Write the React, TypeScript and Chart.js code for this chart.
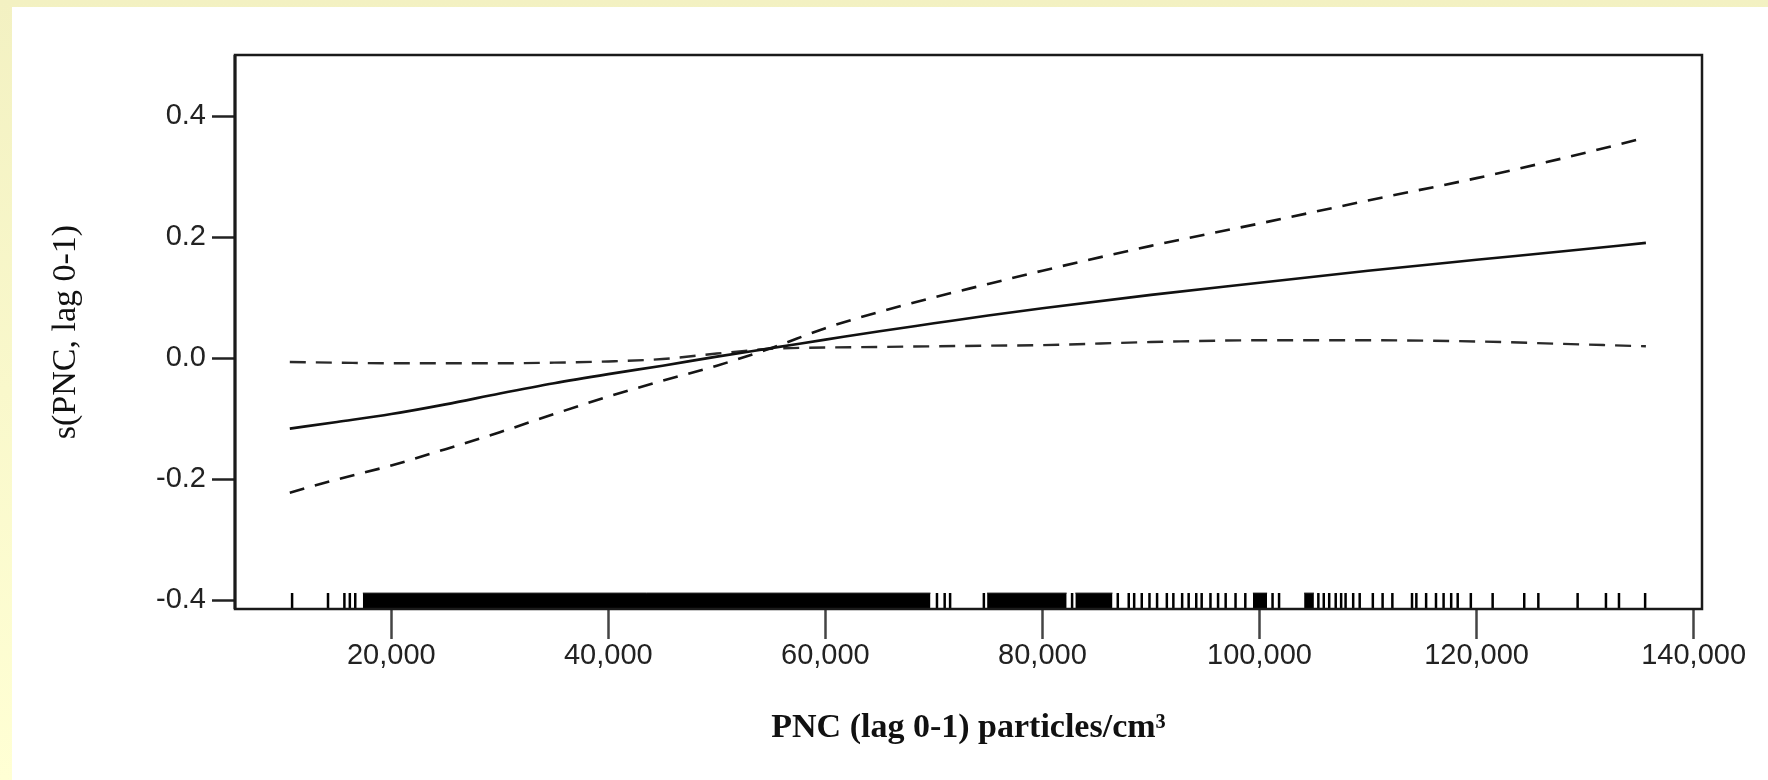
import React, { useEffect, useRef } from "react";
import { Chart, registerables } from "chart.js";

Chart.register(...registerables);

// ---- data ----
const xGrid = [10650, 15000, 20000, 25000, 30000, 35000, 40000, 45000, 50000, 55000, 60000, 65000, 70000, 75000, 80000, 90000, 100000, 110000, 120000, 128000, 135600];
const fitValues = [-0.116, -0.105, -0.092, -0.076, -0.058, -0.041, -0.026, -0.012, 0.003, 0.017, 0.031, 0.045, 0.058, 0.071, 0.083, 0.105, 0.125, 0.145, 0.163, 0.177, 0.191];
const upperValues = [-0.222, -0.2, -0.177, -0.15, -0.122, -0.092, -0.063, -0.037, -0.012, 0.017, 0.05, 0.077, 0.101, 0.123, 0.145, 0.186, 0.223, 0.261, 0.298, 0.331, 0.365];
const lowerValues = [-0.006, -0.007, -0.008, -0.008, -0.008, -0.007, -0.005, -0.001, 0.008, 0.016, 0.018, 0.019, 0.02, 0.021, 0.022, 0.027, 0.03, 0.03, 0.028, 0.024, 0.02];

const rugTicks = [10860, 14170, 15680, 16180, 16680, 70280, 70990, 71490, 74600, 82730, 86940, 87950, 88450, 89150, 89860, 90560, 91460, 92060, 92870, 93470, 94170, 94670, 95480, 96180, 96880, 97790, 98690, 101200, 101800, 105420, 105920, 106420, 107020, 107520, 107930, 108630, 109230, 110440, 111340, 112240, 114050, 114450, 115350, 116260, 116960, 117660, 118260, 119470, 121480, 124390, 125690, 129310, 131920, 133120, 135530];
const rugBlocks = [
  [17380, 69680],
  [74900, 82230],
  [83030, 86450],
  [99390, 100700],
  [104110, 105010],
];

const xTickValues = [20000, 40000, 60000, 80000, 100000, 120000, 140000];
const yTickValues = [-0.4, -0.2, 0, 0.2, 0.4];
const xTitle = "PNC (lag 0-1) particles/cm\u00B3";
const yTitle = "s(PNC, lag 0-1)";

const X_MIN = 5600;
const X_MAX = 140770;
const Y_MIN = -0.4142;
const Y_MAX = 0.5015;
const RUG_MID = -0.401;
const RUG_TOP = -0.388;

const sans = "'Liberation Sans', Arial, Helvetica, sans-serif";
const serif = "'Liberation Serif', 'Times New Roman', Times, serif";

const frameBox = {
  id: "frameBox",
  afterDatasetsDraw(chart: any) {
    const { ctx, chartArea } = chart;
    const { left, right, top, bottom } = chartArea;
    ctx.save();
    ctx.strokeStyle = "#1a1a1a";
    ctx.lineWidth = 2.5;
    ctx.strokeRect(left, top, right - left, bottom - top);
    ctx.beginPath();
    ctx.lineWidth = 3;
    ctx.moveTo(left, top);
    ctx.lineTo(left, bottom);
    ctx.stroke();
    ctx.restore();
  },
};

export default function App() {
  const canvasRef = useRef<HTMLCanvasElement | null>(null);

  useEffect(() => {
    document.body.style.margin = "0";
    const canvas = canvasRef.current;
    if (!canvas) return;

    const pts = (ys: number[]) => xGrid.map((x, i) => ({ x, y: ys[i] }));

    const datasets: any[] = [
      {
        label: "fit",
        data: pts(fitValues),
        borderColor: "#111",
        borderWidth: 2.6,
        pointRadius: 0,
        cubicInterpolationMode: "monotone",
        fill: false,
      },
      {
        label: "upper",
        data: pts(upperValues),
        borderColor: "#151515",
        borderWidth: 2.6,
        borderDash: [15, 11],
        pointRadius: 0,
        cubicInterpolationMode: "monotone",
        fill: false,
      },
      {
        label: "lower",
        data: pts(lowerValues),
        borderColor: "#2a2a2a",
        borderWidth: 2.4,
        borderDash: [16, 10],
        pointRadius: 0,
        cubicInterpolationMode: "monotone",
        fill: false,
      },
      {
        label: "rug",
        data: rugTicks.map((x) => ({ x, y: RUG_MID })),
        showLine: false,
        pointStyle: "line",
        rotation: 90,
        pointRadius: 8,
        pointBorderWidth: 2.5,
        borderColor: "#000",
        backgroundColor: "#000",
        fill: false,
      },
      ...rugBlocks.map((b) => ({
        label: "rugBlock",
        data: [
          { x: b[0], y: RUG_TOP },
          { x: b[1], y: RUG_TOP },
        ],
        borderColor: "#000",
        backgroundColor: "#000",
        borderWidth: 1,
        pointRadius: 0,
        fill: "start",
      })),
    ];

    const chart = new Chart(canvas, {
      type: "line",
      data: { datasets },
      plugins: [frameBox],
      options: {
        animation: false,
        responsive: false,
        events: [],
        layout: { padding: { left: 0, right: 66, top: 48, bottom: 0 } },
        plugins: {
          legend: { display: false },
          tooltip: { enabled: false },
        },
        scales: {
          x: {
            type: "linear",
            min: X_MIN,
            max: X_MAX,
            afterBuildTicks: (scale: any) => {
              scale.ticks = xTickValues.map((v) => ({ value: v }));
            },
            afterFit: (scale: any) => {
              scale.height = 171;
            },
            ticks: {
              autoSkip: false,
              maxRotation: 0,
              minRotation: 0,
              padding: 0,
              color: "#222",
              font: { family: sans, size: 29 },
              callback: (v: any) => Number(v).toLocaleString("en-US"),
            },
            grid: {
              display: true,
              drawOnChartArea: false,
              drawTicks: true,
              tickLength: 30,
              tickWidth: 2.5,
              tickColor: "#444",
            },
            border: { display: false },
            title: {
              display: true,
              text: xTitle,
              color: "#111",
              font: { family: serif, size: 34, weight: "bold" },
              padding: { top: 0, bottom: 31 },
            },
          },
          y: {
            type: "linear",
            min: Y_MIN,
            max: Y_MAX,
            afterBuildTicks: (scale: any) => {
              scale.ticks = yTickValues.map((v) => ({ value: v }));
            },
            afterFit: (scale: any) => {
              scale.width = 223;
            },
            ticks: {
              autoSkip: false,
              padding: 6,
              color: "#222",
              font: { family: sans, size: 29 },
              callback: (v: any) => Number(v).toFixed(1),
            },
            grid: {
              display: true,
              drawOnChartArea: false,
              drawTicks: true,
              tickLength: 23,
              tickWidth: 2.5,
              tickColor: "#222",
            },
            border: { display: false },
            title: {
              display: true,
              text: yTitle,
              color: "#111",
              font: { family: serif, size: 34 },
              padding: { top: 34, bottom: 0 },
            },
          },
        },
      } as any,
    });

    return () => {
      chart.destroy();
    };
  }, []);

  return (
    <div
      style={{
        position: "relative",
        width: 1768,
        height: 780,
        background: "linear-gradient(to bottom, #F3F1C2, #FFFFD4)",
        overflow: "hidden",
      }}
    >
      <div
        style={{
          position: "absolute",
          left: 12,
          top: 7,
          width: 1756,
          height: 773,
          background: "#fff",
        }}
      >
        <canvas ref={canvasRef} width={1756} height={773} style={{ display: "block" }} />
      </div>
    </div>
  );
}
